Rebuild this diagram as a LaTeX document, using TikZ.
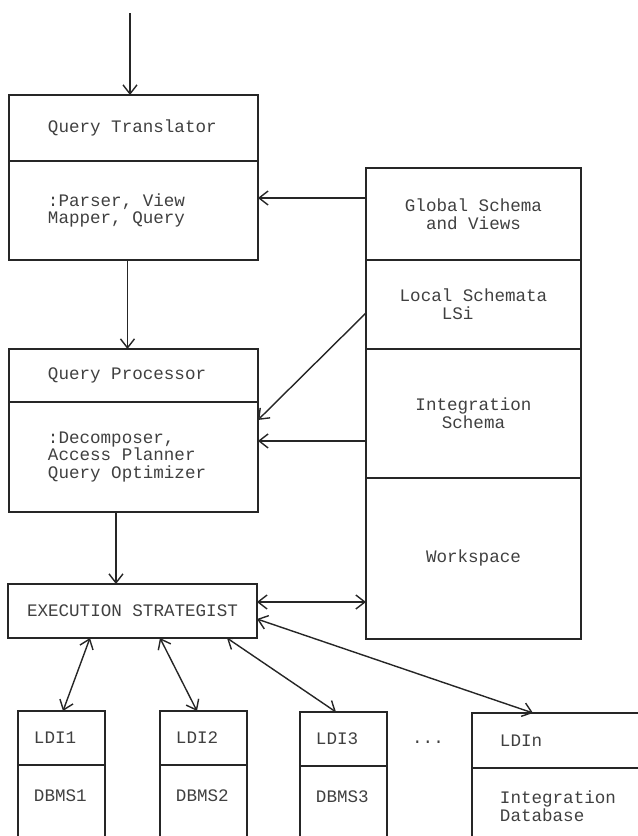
\documentclass[tikz,border=0pt]{standalone}
\usepackage{fontspec}
\setmonofont{Liberation Mono}[WordSpace={1,0,0}]
\usetikzlibrary{positioning,arrows.meta}
\tikzset{
  every node/.style={font=\ttfamily\fontsize{10}{10.2}\selectfont, text=black!75, outer sep=0pt,
    execute at begin node={\spaceskip=0pt\xspaceskip=0pt\relax}},
  modpart/.style={draw, inner xsep=0.78cm, text width=3.42cm, align=left},
  storepart/.style={draw, inner xsep=0.2cm, text width=3.9cm, align=center},
  ldipart/.style={draw, inner xsep=0.32cm, text width=1.1cm, align=left},
  ldinpart/.style={draw, inner xsep=0.56cm, text width=2.64cm, align=left},
  flow/.style={->, >={Straight Barb[length=1.8mm,width=2.8mm]}},
  twoway/.style={<->, >={Straight Barb[length=1.8mm,width=2.8mm]}}
}

\begin{document}
\begin{tikzpicture}[x=0.02cm, y=-0.02cm, line width=0.8pt, color=black!85]
  \useasboundingbox (0,0) rectangle (638,836);
  \clip (0,0) rectangle (638,836);
  % left column
  \node[modpart, anchor=north west, minimum height=1.32cm] (qtHead) at (9,95) {Query Translator};
  \node[modpart, below=0pt of qtHead, minimum height=1.98cm] (qtBody) {:Parser, View\\Mapper, Query};
  \node[modpart, anchor=north west, minimum height=1.06cm] (qpHead) at (9,349) {Query Processor};
  \node[modpart, below=0pt of qpHead, minimum height=2.2cm] (qpBody) {:Decomposer,\\Access Planner\\Query Optimizer};
  \node[draw, anchor=north west, minimum width=4.98cm, minimum height=1.08cm] (exec) at (8,584) {EXECUTION STRATEGIST};
  % right column
  \node[storepart, anchor=north west, minimum height=1.84cm] (gsv) at (366,168) {Global Schema\\and Views};
  \node[storepart, below=0pt of gsv, minimum height=1.78cm] (lsi) {Local Schemata\\\phantom{Loca}LSi\phantom{l Schem}};
  \node[storepart, below=0pt of lsi, minimum height=2.58cm] (isch) {Integration\\Schema};
  \node[storepart, below=0pt of isch, minimum height=3.22cm] (work) {Workspace};
  % local database interfaces
  \node[ldipart, anchor=north west, minimum height=1.08cm] (ldiOne) at (18,711) {LDI1};
  \node[ldipart, below=0pt of ldiOne, minimum height=1.6cm] (dbOne) {DBMS1\\\mbox{}};
  \node[ldipart, anchor=north west, minimum height=1.08cm] (ldiTwo) at (160,711) {LDI2};
  \node[ldipart, below=0pt of ldiTwo, minimum height=1.6cm] (dbTwo) {DBMS2\\\mbox{}};
  \node[ldipart, anchor=north west, minimum height=1.08cm] (ldiThree) at (300,712) {LDI3};
  \node[ldipart, below=0pt of ldiThree, minimum height=1.6cm] (dbThree) {DBMS3\\\mbox{}};
  \node (dots) at (428,742) {...};
  \node[ldinpart, anchor=north west, minimum height=1.1cm] (ldiN) at (472,713) {LDIn};
  \node[ldinpart, below=0pt of ldiN, minimum height=1.54cm] (dbN) {Integration\\Database};
  % connectors
  \coordinate (in) at (130,13);
  \draw[flow] (in) -- (in |- qtHead.north);
  \draw[flow] ([xshift=-0.12cm]qtBody.south) coordinate (d) -- (d |- qpHead.north);
  \draw[flow] ([xshift=-0.35cm]qpBody.south) coordinate (e) -- (e |- exec.north);
  \draw[flow] ([yshift=0.32cm]gsv.west) coordinate (g) -- (g -| qtBody.east);
  \draw[flow] ([yshift=-0.17cm]lsi.west) -- ([yshift=0.74cm]qpBody.east);
  \draw[flow] ([yshift=-0.55cm]isch.west) coordinate (f) -- (f -| qpBody.east);
  \draw[twoway] ([yshift=0.18cm]exec.east) coordinate (w) -- (w -| work.west);
  \draw[twoway] ([xshift=-0.85cm]exec.south) -- ([xshift=0.03cm]ldiOne.north);
  \draw[twoway] ([xshift=0.55cm]exec.south) -- ([xshift=-0.13cm]ldiTwo.north);
  \draw[twoway] ([xshift=1.89cm]exec.south) -- ([xshift=-0.15cm]ldiThree.north);
  \draw[twoway] ([yshift=-0.16cm]exec.east) -- ([xshift=-0.66cm]ldiN.north);
\end{tikzpicture}
\end{document}
